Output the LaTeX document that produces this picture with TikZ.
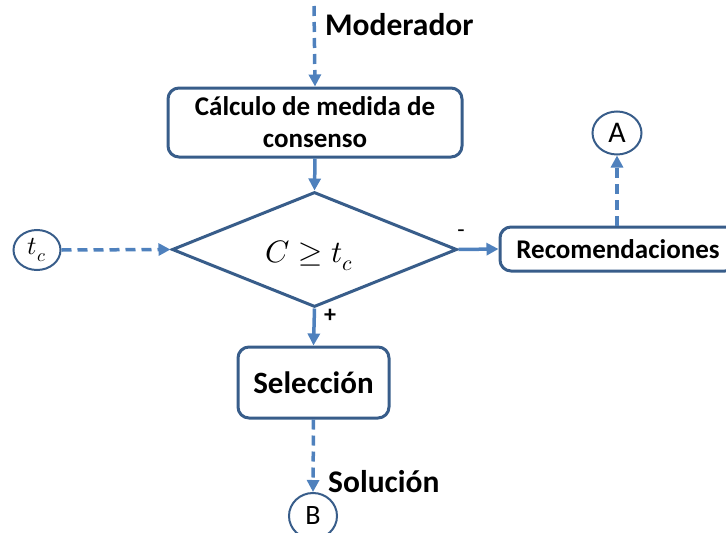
\documentclass[tikz,border=0pt]{standalone}
\usepackage{fontspec}
\usepackage{unicode-math}
\setmainfont{Carlito}
\setmathfont{Latin Modern Math}
\usetikzlibrary{arrows.meta,shapes.geometric}
\definecolor{linea}{HTML}{4F81BD}
\definecolor{borde}{HTML}{385D8A}
\tikzset{
  caja/.style={draw=borde, line width=3pt, rounded corners=11pt, fill=white,
    align=center, inner sep=0pt, font=\bfseries\fontsize{27}{32}\selectfont},
  rombo/.style={diamond, draw=borde, line width=3pt, inner sep=0pt,
    minimum width=285pt, minimum height=115pt},
  circulo/.style={ellipse, draw=borde, line width=2pt, inner sep=0pt},
  flecha/.style={draw=linea, line width=3.5pt, -{Triangle[length=12pt,width=12pt]}},
  discont/.style={flecha, dash pattern=on 10pt off 6pt},
  etiqueta/.style={font=\bfseries\fontsize{31.5}{36}\selectfont, anchor=west, inner sep=0pt}
}
\begin{document}
\begin{tikzpicture}[x=1pt, y=-1pt]
    \useasboundingbox (0,0) rectangle (726,533);

    % nodes
    \coordinate (ent) at (314,6);
    \node [caja, minimum width=294pt, minimum height=69pt] (calc) at (315,122.5)
        {C\'alculo de medida de\\consenso};
    \node [rombo] (dec) at (314.5,249.5) {};
    \node (cond) at (309,256) {\fontsize{31}{36}\selectfont$C \geq t_c$};
    \node [circulo, minimum width=47pt, minimum height=40pt] (tc) at (37,250)
        {\fontsize{26}{30}\selectfont$t_c$};
    \node [caja, minimum width=236pt, minimum height=44pt] (rec) at (618,249)
        {Recomendaciones};
    \node [circulo, minimum width=49pt, minimum height=43pt] (A) at (617,133)
        {\fontsize{30}{34}\selectfont A};
    \node [caja, minimum width=151pt, minimum height=71pt,
        font=\bfseries\fontsize{31}{36}\selectfont] (sel) at (313.5,382.5) {Selecci\'on};
    \node [circulo, minimum width=48pt, minimum height=46pt] (B) at (313,516)
        {\fontsize{28}{32}\selectfont B};

    % connectors
    \draw [discont] (ent) -- (calc.north);
    \draw [flecha] (calc.south) -- (dec.north);
    \draw [discont] (tc.east) -- (dec.west);
    \draw [flecha] (dec.east) -- (rec.west);
    \draw [discont] (A |- rec.north) -- (A.south);
    \draw [flecha] (dec.south) -- (sel.north);
    \draw [discont] (sel.south) -- (B.north);

    % labels
    \node [etiqueta] (mod) at (325,25) {Moderador};
    \node [etiqueta] (sol) at (328,482) {Soluci\'on};
    \node [font=\fontsize{24}{28}\selectfont] (menos) at (461,234) {-};
    \node [font=\bfseries\fontsize{24}{28}\selectfont] (mas) at (330,316) {+};
\end{tikzpicture}
\end{document}
